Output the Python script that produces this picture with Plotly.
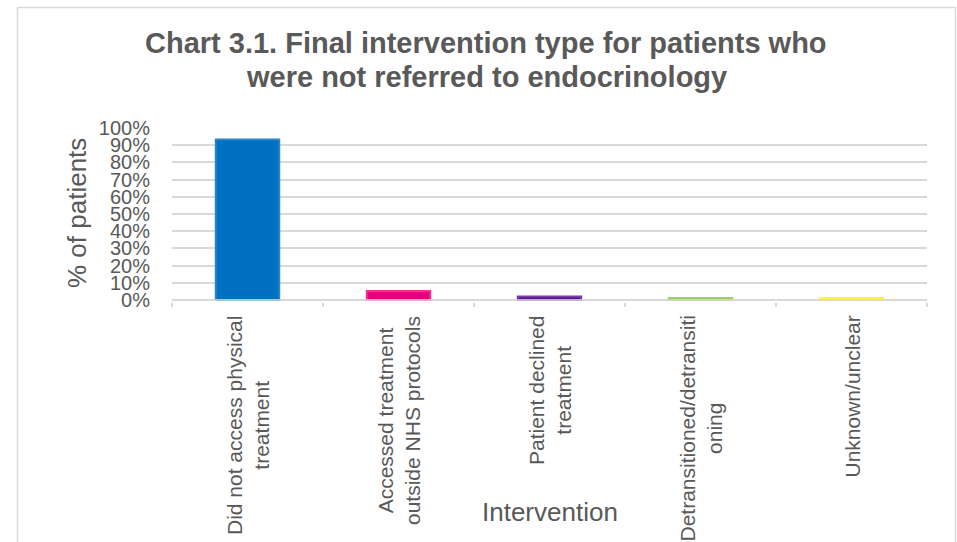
import plotly.graph_objects as go

# Chart data
categories = [
    "Did not access physical treatment",
    "Accessed treatment outside NHS protocols",
    "Patient declined treatment",
    "Detransitioned/detransitioning",
    "Unknown/unclear",
]
tick_text = [
    "Did not access physical<br>treatment",
    "Accessed treatment<br>outside NHS protocols",
    "Patient declined<br>treatment",
    "Detransitioned/detransiti<br>oning",
    "Unknown/unclear",
]
share_of_patients = [0.933, 0.052, 0.021, 0.011, 0.011]
y_ticks = [0.0, 0.1, 0.2, 0.3, 0.4, 0.5, 0.6, 0.7, 0.8, 0.9, 1.0]

fill_colors = ["#0070C0", "#E6007E", "#5C0F96", "#8CC63F", "#FFF500"]
edge_colors = ["#2A82C8", "#EC3391", "#7440A8", "#9DD05C", "#FFF43A"]

TEXT = "#595959"
GRID = "#D9D9D9"
FONT = "Liberation Sans, Arial, sans-serif"

# Pixel geometry: the value axis runs from y=300 (0%) to y=128 (100%),
# with a couple of pixels of room below the baseline for the bar outlines
W, H = 957, 542
L, R, T, B = 172, 30, 128, 240
PW, PH = W - L - R, H - T - B
Y_ZERO_PX = 300
Y_LOW = -(H - B - Y_ZERO_PX) / (Y_ZERO_PX - T)


def px_x(x):
    return (x - L) / PW


def px_y(y):
    return (H - B - y) / PH


fig = go.Figure(
    go.Bar(
        x=categories,
        y=share_of_patients,
        marker=dict(color=fill_colors, line=dict(color=edge_colors, width=2)),
        hovertemplate="%{x}: %{y:.1%}<extra></extra>",
    )
)

annotations = []
# Category labels, rotated with centred lines
for cat, txt in zip(categories, tick_text):
    annotations.append(dict(
        x=cat, xref="x", y=px_y(314), yref="paper",
        text=txt, textangle=-90, showarrow=False,
        xanchor="center", yanchor="top", align="center",
        font=dict(family=FONT, size=21, color=TEXT),
    ))

# Title lines
annotations.append(dict(
    x=px_x(486), y=px_y(43), xref="paper", yref="paper",
    text="<b>Chart 3.1. Final intervention type for patients who</b>",
    showarrow=False, xanchor="center", yanchor="middle",
    font=dict(family=FONT, size=29, color=TEXT),
))
annotations.append(dict(
    x=px_x(486), y=px_y(77), xref="paper", yref="paper",
    text="<b>were not referred to endocrinology</b>",
    showarrow=False, xanchor="center", yanchor="middle",
    font=dict(family=FONT, size=29, color=TEXT),
))

# Axis titles
annotations.append(dict(
    x=px_x(77), y=px_y(213), xref="paper", yref="paper",
    text="% of patients", textangle=-90, showarrow=False,
    xanchor="center", yanchor="middle",
    font=dict(family=FONT, size=26, color=TEXT),
))
annotations.append(dict(
    x=0.5, y=px_y(512), xref="paper", yref="paper",
    text="Intervention", showarrow=False,
    xanchor="center", yanchor="middle",
    font=dict(family=FONT, size=26, color=TEXT),
))

fig.update_layout(
    width=W, height=H,
    margin=dict(l=L, r=R, t=T, b=B, pad=0),
    paper_bgcolor="white", plot_bgcolor="white",
    showlegend=False,
    bargap=0.58,
    annotations=annotations,
    shapes=[
        # outer chart frame
        dict(
            type="rect", xref="paper", yref="paper",
            x0=px_x(17.5), x1=px_x(955.5), y0=px_y(560), y1=px_y(7.5),
            line=dict(color=GRID, width=1.5), fillcolor="rgba(0,0,0,0)",
            layer="below",
        ),
        # category axis baseline at 0%
        dict(
            type="line", xref="paper", yref="y",
            x0=0, x1=1, y0=0, y1=0,
            line=dict(color=GRID, width=1.5), layer="above",
        ),
    ],
    xaxis=dict(
        type="category",
        showticklabels=False,
        showgrid=False,
        showline=False,
        ticks="outside", tickson="boundaries", ticklen=4,
        tickcolor=GRID, tickwidth=1.5,
        zeroline=False,
    ),
    yaxis=dict(
        range=[Y_LOW, 1],
        tickvals=y_ticks,
        tickformat=".0%",
        tickfont=dict(family=FONT, size=20, color=TEXT),
        ticks="outside", ticklen=17, tickcolor="rgba(0,0,0,0)",
        showgrid=True, gridcolor=GRID, gridwidth=1.5,
        zeroline=False, showline=False,
    ),
)

fig.write_html("out.html")
